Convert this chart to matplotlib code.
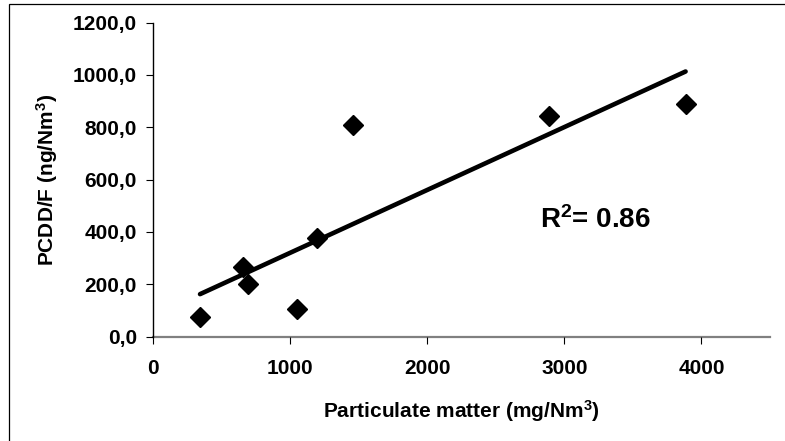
import numpy as np
import matplotlib
matplotlib.use("Agg")
import matplotlib.pyplot as plt
from matplotlib.patches import Rectangle

plt.rcParams['font.family'] = ['Liberation Sans', 'DejaVu Sans']
plt.rcParams['font.weight'] = 'bold'
plt.rcParams['mathtext.fontset'] = 'custom'
plt.rcParams['mathtext.rm'] = 'Liberation Sans:bold'
plt.rcParams['mathtext.bf'] = 'Liberation Sans:bold'
plt.rcParams['mathtext.it'] = 'Liberation Sans:bold'

# particulate matter (mg/Nm3) vs PCDD/F (ng/Nm3)
particulate = [341, 657, 693, 1047, 1193, 1460, 2884, 3884]
pcddf = [76, 267, 200, 105, 376, 809, 843, 889]
r2_text = r'R$^{2}$= 0.86'

y_ticks = [0, 200, 400, 600, 800, 1000, 1200]
x_ticks = [0, 1000, 2000, 3000, 4000]

fig = plt.figure(figsize=(7.85, 4.41), dpi=100)
W, H = 785, 441
ax = fig.add_axes([153.3 / W, 1 - 336.7 / H, (770 - 153.3) / W, (336.7 - 22.6) / H])

# outer frame
fig.patches.append(Rectangle((9.3 / W, -0.1), 1.2, 1.1 - 4.3 / H, transform=fig.transFigure,
                             fill=False, edgecolor='black', linewidth=0.9))

# linear trendline over the data range
coef = np.polyfit(particulate, pcddf, 1)
xs = np.array([min(particulate), max(particulate)])
ax.plot(xs, np.polyval(coef, xs), color='black', linewidth=3.3, solid_capstyle='round', zorder=2)

ax.plot(particulate, pcddf, linestyle='none', marker='D', markersize=10.5,
        color='black', zorder=3)

ax.text(2820, 414, r2_text, fontsize=20, fontweight='bold', va='baseline', ha='left')

ax.set_xlim(0, 4500)
ax.set_ylim(0, 1200)
ax.set_xticks(x_ticks)
ax.set_yticks(y_ticks)
ax.set_yticklabels([f"{v:.1f}".replace('.', ',') for v in y_ticks])
ax.set_xticklabels([str(v) for v in x_ticks])

for side in ['top', 'right']:
    ax.spines[side].set_visible(False)
ax.spines['left'].set_color('black')
ax.spines['left'].set_linewidth(1.0)
ax.spines['bottom'].set_color('#808080')
ax.spines['bottom'].set_linewidth(1.6)
ax.spines['bottom'].set_zorder(1)

ax.tick_params(axis='y', direction='out', length=4.8, width=0.8, color='black',
               labelsize=15, pad=7)
ax.tick_params(axis='x', direction='out', length=4.8, width=0.8, color='black',
               labelsize=15, pad=11)
for lbl in ax.get_xticklabels() + ax.get_yticklabels():
    lbl.set_fontweight('bold')

ax.set_xlabel(r'Particulate matter (mg/Nm$^{3}$)', fontsize=15, fontweight='bold', va='center')
ax.xaxis.set_label_coords(0.5, (336.7 - 411) / (336.7 - 22.6))
ax.set_ylabel(r'PCDD/F (ng/Nm$^{3}$)', fontsize=15, fontweight='bold', va='center')
ax.yaxis.set_label_coords((47 - 153.3) / (770 - 153.3), 0.5)

fig.savefig("out.png", dpi=100)
